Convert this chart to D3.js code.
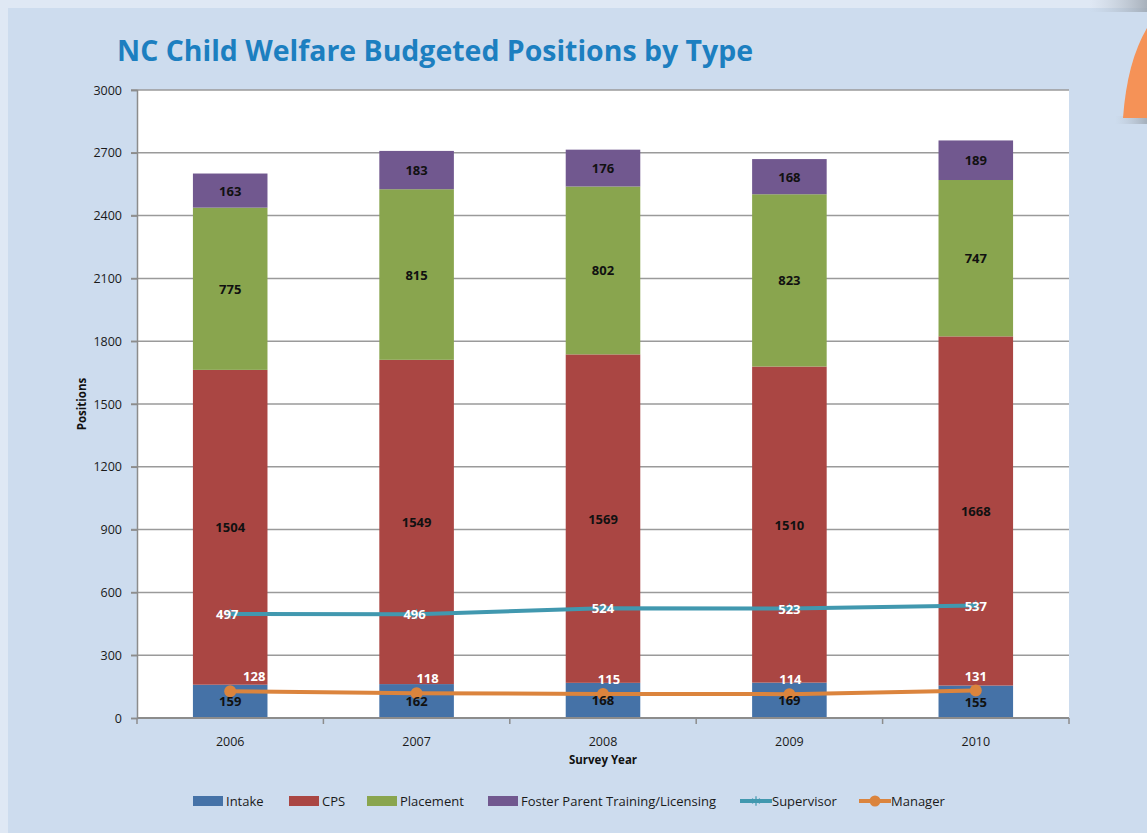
<!DOCTYPE html>
<html>
<head>
<meta charset="utf-8">
<script src="https://cdn.jsdelivr.net/npm/d3@7"></script>
<style>
  html, body { margin: 0; padding: 0; background: #dfe8f4; }
  svg { display: block; }
</style>
</head>
<body>
<script>
const years = ['2006', '2007', '2008', '2009', '2010'];
const intake = [159, 162, 168, 169, 155];
const cps = [1504, 1549, 1569, 1510, 1668];
const placement = [775, 815, 802, 823, 747];
const foster = [163, 183, 176, 168, 189];
const supervisor = [497, 496, 524, 523, 537];
const manager = [128, 118, 115, 114, 131];
const yTicks = [0, 300, 600, 900, 1200, 1500, 1800, 2100, 2400, 2700, 3000];

const barKeys = ['Intake', 'CPS', 'Placement', 'Foster Parent Training/Licensing'];
const barColors = ['#4572a7', '#aa4643', '#89a54e', '#71588f'];
const supColor = '#4198af';
const mgrColor = '#db843d';

const W = 1147, H = 833;
const plot = { left: 137, right: 1069, top: 90, bottom: 718 };

const svg = d3.select('body').append('svg')
  .attr('width', W)
  .attr('height', H);

/** page background */
svg.append('rect').attr('width', W).attr('height', H).attr('fill', '#dfe8f4');
svg.append('rect').attr('x', 8).attr('y', 8).attr('width', W - 8).attr('height', H - 8).attr('fill', '#cddcee');

// shadow at the top right corner
const defs = svg.append('defs');
const sh = defs.append('linearGradient').attr('id', 'sh').attr('x1', 0).attr('x2', 1);
sh.append('stop').attr('offset', 0).attr('stop-color', '#b8c2ce').attr('stop-opacity', 0);
sh.append('stop').attr('offset', 1).attr('stop-color', '#9aa3ad').attr('stop-opacity', 0.8);
svg.append('rect').attr('x', 1090).attr('y', 0).attr('width', 57).attr('height', 12).attr('fill', 'url(#sh)');
svg.append('rect').attr('x', 1115).attr('y', 116).attr('width', 32).attr('height', 8).attr('fill', 'url(#sh)');

// orange shape at the right edge
svg.append('path')
  .attr('d', 'M1123,118 Q1127,62 1147,28 L1147,118 Z')
  .attr('fill', '#f59257');

/** title */
svg.append('text')
  .attr('x', 117).attr('y', 61)
  .attr('font-family', '"Open Sans", sans-serif')
  .attr('font-weight', 'bold')
  .attr('font-size', 28)
  .attr('fill', '#1c7fc0')
  .attr('textLength', 636)
  .attr('lengthAdjust', 'spacingAndGlyphs')
  .text('NC Child Welfare Budgeted Positions by Type');

/** scales */
const x = d3.scaleBand()
  .domain(years)
  .range([plot.left, plot.right])
  .paddingInner(0.6)
  .paddingOuter(0.3);

const y = d3.scaleLinear()
  .domain([0, 3000])
  .range([plot.bottom, plot.top]);

const cx = d => x(d) + x.bandwidth() / 2;

// plot area
svg.append('rect')
  .attr('x', plot.left).attr('y', plot.top)
  .attr('width', plot.right - plot.left).attr('height', plot.bottom - plot.top)
  .attr('fill', '#fff');

// gridlines with left ticks
svg.append('g')
  .selectAll('line')
  .data(yTicks.filter(t => t > 0))
  .enter().append('line')
  .attr('x1', plot.left - 6).attr('x2', plot.right)
  .attr('y1', d => y(d)).attr('y2', d => y(d))
  .attr('stroke', '#9a9a9a')
  .attr('stroke-width', 1.5);

// y axis
const yAxis = svg.append('g')
  .attr('transform', `translate(${plot.left},0)`)
  .call(d3.axisLeft(y).tickValues(yTicks).tickSize(6).tickPadding(9).tickFormat(d3.format('d')));
yAxis.select('.domain').attr('stroke', '#8c8c8c').attr('stroke-width', 1.5);
yAxis.selectAll('.tick line').attr('stroke', '#8c8c8c').attr('stroke-width', 1.5);
yAxis.selectAll('.tick text')
  .attr('font-family', '"Open Sans", sans-serif')
  .attr('font-size', 12.5)
  .attr('fill', '#1a1a1a');

/** stacked bars */
const table = years.map((yr, i) => ({
  year: yr,
  'Intake': intake[i],
  'CPS': cps[i],
  'Placement': placement[i],
  'Foster Parent Training/Licensing': foster[i]
}));
const stacked = d3.stack().keys(barKeys)(table);

svg.append('g')
  .selectAll('g')
  .data(stacked)
  .enter().append('g')
  .attr('fill', (d, i) => barColors[i])
  .selectAll('rect')
  .data(d => d)
  .enter().append('rect')
  .attr('x', d => x(d.data.year))
  .attr('width', x.bandwidth())
  .attr('y', d => y(d[1]))
  .attr('height', d => y(d[0]) - y(d[1]));

// x axis
const xAxisG = svg.append('g').attr('transform', `translate(0,${plot.bottom})`);
xAxisG.append('line')
  .attr('x1', plot.left).attr('x2', plot.right)
  .attr('stroke', '#8c8c8c').attr('stroke-width', 2);
xAxisG.selectAll('.sep')
  .data(d3.range(years.length + 1))
  .enter().append('line')
  .attr('class', 'sep')
  .attr('x1', i => plot.left + i * x.step()).attr('x2', i => plot.left + i * x.step())
  .attr('y1', 0).attr('y2', 6)
  .attr('stroke', '#8c8c8c').attr('stroke-width', 1.5);
xAxisG.selectAll('.lab')
  .data(years)
  .enter().append('text')
  .attr('class', 'lab')
  .attr('x', d => cx(d))
  .attr('y', 28)
  .attr('text-anchor', 'middle')
  .attr('font-family', '"Open Sans", sans-serif')
  .attr('font-size', 12.5)
  .attr('fill', '#1a1a1a')
  .text(d => d);

/** lines */
const line = d3.line().x((d, i) => cx(years[i])).y(d => y(d));

svg.append('path')
  .datum(supervisor)
  .attr('d', line)
  .attr('fill', 'none')
  .attr('stroke', supColor)
  .attr('stroke-width', 4);

svg.append('g')
  .selectAll('path')
  .data(supervisor)
  .enter().append('path')
  .attr('transform', (d, i) => `translate(${cx(years[i])},${y(d)})`)
  .attr('d', d3.symbol(d3.symbolAsterisk, 70))
  .attr('fill', 'none')
  .attr('stroke', supColor)
  .attr('stroke-width', 1.2);

svg.append('path')
  .datum(manager)
  .attr('d', line)
  .attr('fill', 'none')
  .attr('stroke', mgrColor)
  .attr('stroke-width', 4);

svg.append('g')
  .selectAll('circle')
  .data(manager)
  .enter().append('circle')
  .attr('cx', (d, i) => cx(years[i]))
  .attr('cy', d => y(d))
  .attr('r', 6)
  .attr('fill', mgrColor);

// bar value labels, drawn above the lines
svg.append('g')
  .selectAll('g')
  .data(stacked)
  .enter().append('g')
  .selectAll('text')
  .data(d => d)
  .enter().append('text')
  .attr('x', d => cx(d.data.year))
  .attr('y', d => y((d[0] + d[1]) / 2) + 5)
  .attr('text-anchor', 'middle')
  .attr('font-family', '"Open Sans", sans-serif')
  .attr('font-weight', 'bold')
  .attr('font-size', 13)
  .attr('fill', '#111')
  .text(d => d[1] - d[0]);

// white labels on the lines
const supDx = [-3, -2, 0, 0, 0];
svg.append('g')
  .selectAll('text')
  .data(supervisor)
  .enter().append('text')
  .attr('x', (d, i) => cx(years[i]) + supDx[i])
  .attr('y', d => y(d) + 5)
  .attr('text-anchor', 'middle')
  .attr('font-family', '"Open Sans", sans-serif')
  .attr('font-weight', 'bold')
  .attr('font-size', 13)
  .attr('fill', '#fff')
  .text(d => d);

const mgrDx = [24, 11, 6, 1, 0];
svg.append('g')
  .selectAll('text')
  .data(manager)
  .enter().append('text')
  .attr('x', (d, i) => cx(years[i]) + mgrDx[i])
  .attr('y', d => y(d) - 10)
  .attr('text-anchor', 'middle')
  .attr('font-family', '"Open Sans", sans-serif')
  .attr('font-weight', 'bold')
  .attr('font-size', 13)
  .attr('fill', '#fff')
  .text(d => d);

/** axis titles */
svg.append('text')
  .attr('transform', `translate(86,${(plot.top + plot.bottom) / 2}) rotate(-90)`)
  .attr('text-anchor', 'middle')
  .attr('font-family', '"Open Sans", sans-serif')
  .attr('font-weight', 'bold')
  .attr('font-size', 11.5)
  .attr('fill', '#111')
  .text('Positions');

svg.append('text')
  .attr('x', (plot.left + plot.right) / 2)
  .attr('y', 764)
  .attr('text-anchor', 'middle')
  .attr('font-family', '"Open Sans", sans-serif')
  .attr('font-weight', 'bold')
  .attr('font-size', 11.5)
  .attr('fill', '#111')
  .text('Survey Year');

/** legend */
const legendItems = [
  { name: 'Intake', color: barColors[0], type: 'bar', x: 193 },
  { name: 'CPS', color: barColors[1], type: 'bar', x: 289 },
  { name: 'Placement', color: barColors[2], type: 'bar', x: 367 },
  { name: 'Foster Parent Training/Licensing', color: barColors[3], type: 'bar', x: 488 },
  { name: 'Supervisor', color: supColor, type: 'sup', x: 740 },
  { name: 'Manager', color: mgrColor, type: 'mgr', x: 859 }
];

const legend = svg.append('g')
  .selectAll('g')
  .data(legendItems)
  .enter().append('g')
  .attr('transform', d => `translate(${d.x},801)`);

legend.filter(d => d.type === 'bar').append('rect')
  .attr('x', 0).attr('y', -5).attr('width', 30).attr('height', 10)
  .attr('fill', d => d.color);

legend.filter(d => d.type !== 'bar').append('line')
  .attr('x1', 0).attr('x2', 32)
  .attr('stroke', d => d.color).attr('stroke-width', 4);

legend.filter(d => d.type === 'sup').append('path')
  .attr('transform', 'translate(16,0)')
  .attr('d', d3.symbol(d3.symbolAsterisk, 60))
  .attr('fill', 'none').attr('stroke', supColor).attr('stroke-width', 1.2);

legend.filter(d => d.type === 'mgr').append('circle')
  .attr('cx', 16).attr('r', 5.5).attr('fill', mgrColor);

legend.append('text')
  .attr('x', d => d.type === 'bar' ? 33 : 32)
  .attr('y', 5)
  .attr('font-family', '"Open Sans", sans-serif')
  .attr('font-size', 13)
  .attr('fill', '#1a1a1a')
  .text(d => d.name);
</script>
</body>
</html>
